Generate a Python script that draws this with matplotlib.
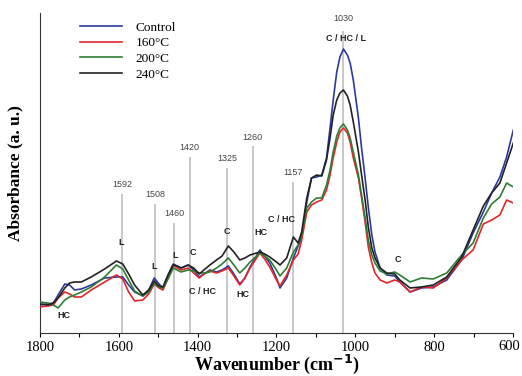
import matplotlib
matplotlib.use("Agg")
import matplotlib.pyplot as plt

wavenumber = [1800, 1780, 1766, 1754, 1737, 1725, 1712, 1695, 1670, 1636,
              1606, 1590, 1575, 1560, 1539, 1524, 1510, 1498, 1488, 1475,
              1462, 1452, 1442, 1424, 1410, 1396, 1384, 1369, 1352, 1338,
              1322, 1308, 1293, 1280, 1267, 1242, 1230, 1217, 1200, 1191,
              1174, 1157, 1145, 1136, 1123, 1111, 1098, 1085, 1073, 1064,
              1056, 1047, 1039, 1030, 1020, 1013, 1005, 992, 984, 975,
              967, 958, 950, 937, 920, 900, 887, 861, 832, 802,
              768, 730, 701, 675, 654, 633, 616, 599]

control = [0.28, 0.29, 0.30, 0.38, 0.49, 0.48, 0.43, 0.44, 0.48, 0.55,
           0.56, 0.56, 0.48, 0.41, 0.37, 0.43, 0.55, 0.49, 0.45, 0.58,
           0.69, 0.67, 0.65, 0.68, 0.63, 0.56, 0.59, 0.63, 0.61, 0.63,
           0.67, 0.59, 0.49, 0.55, 0.66, 0.83, 0.77, 0.70, 0.55, 0.45,
           0.55, 0.75, 0.87, 0.95, 1.31, 1.55, 1.56, 1.58, 1.75, 2.05,
           2.33, 2.61, 2.76, 2.84, 2.78, 2.70, 2.53, 2.15, 1.85, 1.55,
           1.26, 0.98, 0.81, 0.65, 0.58, 0.57, 0.51, 0.41, 0.45, 0.46,
           0.53, 0.73, 1.00, 1.21, 1.40, 1.56, 1.76, 2.03]

t160 = [0.26, 0.27, 0.28, 0.35, 0.41, 0.39, 0.36, 0.36, 0.43, 0.51,
        0.58, 0.54, 0.41, 0.32, 0.33, 0.39, 0.49, 0.45, 0.43, 0.55,
        0.68, 0.65, 0.63, 0.65, 0.60, 0.55, 0.59, 0.62, 0.60, 0.62,
        0.65, 0.57, 0.48, 0.55, 0.65, 0.80, 0.74, 0.66, 0.53, 0.47,
        0.58, 0.73, 0.79, 0.93, 1.21, 1.28, 1.31, 1.33, 1.43, 1.58,
        1.75, 1.91, 2.01, 2.05, 2.00, 1.91, 1.75, 1.55, 1.35, 1.11,
        0.86, 0.70, 0.60, 0.53, 0.50, 0.53, 0.51, 0.41, 0.46, 0.45,
        0.55, 0.73, 0.83, 1.09, 1.13, 1.18, 1.33, 1.30]

t200 = [0.31, 0.30, 0.28, 0.25, 0.33, 0.36, 0.38, 0.41, 0.46, 0.56,
        0.68, 0.64, 0.53, 0.42, 0.37, 0.41, 0.50, 0.46, 0.45, 0.54,
        0.65, 0.63, 0.61, 0.63, 0.62, 0.60, 0.60, 0.61, 0.65, 0.69,
        0.75, 0.68, 0.60, 0.65, 0.71, 0.80, 0.77, 0.73, 0.63, 0.57,
        0.65, 0.81, 0.88, 0.98, 1.25, 1.31, 1.35, 1.35, 1.48, 1.63,
        1.81, 1.97, 2.05, 2.09, 2.03, 1.95, 1.81, 1.58, 1.38, 1.15,
        0.93, 0.78, 0.70, 0.62, 0.59, 0.61, 0.58, 0.51, 0.55, 0.54,
        0.60, 0.78, 0.90, 1.15, 1.29, 1.36, 1.50, 1.46]

t240 = [0.29, 0.28, 0.30, 0.35, 0.45, 0.50, 0.51, 0.51, 0.56, 0.64,
        0.72, 0.69, 0.59, 0.48, 0.38, 0.43, 0.52, 0.47, 0.46, 0.58,
        0.68, 0.67, 0.65, 0.68, 0.65, 0.59, 0.63, 0.68, 0.73, 0.77,
        0.87, 0.81, 0.73, 0.75, 0.78, 0.81, 0.79, 0.76, 0.71, 0.68,
        0.75, 0.96, 0.90, 1.01, 1.35, 1.55, 1.58, 1.57, 1.73, 1.95,
        2.18, 2.33, 2.40, 2.43, 2.37, 2.28, 2.11, 1.81, 1.58, 1.33,
        1.06, 0.85, 0.75, 0.65, 0.60, 0.59, 0.53, 0.45, 0.46, 0.48,
        0.56, 0.76, 1.03, 1.27, 1.40, 1.50, 1.70, 1.90]

series_labels = ["Control", "160°C", "200°C", "240°C"]
series_colors = ["#2b3a9c", "#e3262b", "#2e7d32", "#222222"]

xtick_values = [1800, 1600, 1400, 1200, 1000, 800, 600]
xtick_labels = ["1800", "1600", "1400", "1200", "1000", "800", "600"]

band_positions = [1592, 1508, 1460, 1420, 1325, 1260, 1157, 1030]
band_label_heights = [1.48, 1.38, 1.19, 1.85, 1.74, 1.96, 1.60, 3.15]
band_line_tops = [1.39, 1.29, 1.10, 1.76, 1.65, 1.87, 1.51, 3.02]

assign_texts = ["L", "L", "L", "C", "C / HC", "C", "HC", "HC", "HC", "C / HC", "C", "C / HC / L"]
assign_x = [1593, 1510, 1458, 1413, 1387, 1325, 1285, 1740, 1240, 1187, 893, 1023]
assign_y = [0.90, 0.66, 0.77, 0.80, 0.41, 1.01, 0.38, 0.17, 1.00, 1.13, 0.73, 2.95]

fig = plt.figure(figsize=(5.22, 3.76), dpi=100)
ax = fig.add_axes([0.0766, 0.1144, 0.906, 0.8510])

for xb, top, lab in zip(band_positions, band_line_tops, band_label_heights):
    ax.plot([xb, xb], [0, top], color="#c8c8c8", lw=1.4, zorder=1, solid_capstyle="butt")
    ax.text(xb, lab, str(xb), ha="center", va="center", fontsize=6.5,
            color="#444444", family="Liberation Sans")

for ys, lab, col in zip([control, t160, t200, t240], series_labels, series_colors):
    ax.plot(wavenumber, ys, color=col, lw=1.2, label=lab, zorder=3,
            solid_joinstyle="round")

for t, x, y in zip(assign_texts, assign_x, assign_y):
    ax.text(x, y, t, ha="center", va="center", fontsize=6.5, fontweight="bold",
            color="#222222", family="Liberation Sans", zorder=4)

ax.set_xlim(1800, 600)
ax.set_ylim(0, 3.2)
ax.set_xticks(xtick_values)
ax.set_xticklabels(xtick_labels[:-1] + [""], family="Liberation Serif", fontsize=10.5)
ax.set_xticks([1700, 1500, 1300, 1100, 900, 700], minor=True)
ax.set_yticks([])
ax.tick_params(axis="x", which="both", direction="out", length=3, width=0.8, pad=3)
# last tick label nudged slightly left so it stays inside the figure
ax.annotate(xtick_labels[-1], xy=(xtick_values[-1], 0), xycoords=("data", "axes fraction"),
            xytext=(-2.5, -5.2), textcoords="offset points", ha="center", va="top",
            family="Liberation Serif", fontsize=10.5)
ax.spines["top"].set_visible(False)
ax.spines["right"].set_visible(False)
ax.spines["left"].set_color("#333333")
ax.spines["bottom"].set_color("#333333")

ax.set_xlabel("Wavenumber (cm$^{\\mathbf{-1}}$)", family="Liberation Serif",
              fontsize=13, fontweight="bold", labelpad=-1)
ax.set_ylabel("Absorbance (a. u.)", family="Liberation Serif",
              fontsize=12.5, fontweight="bold", labelpad=12)

leg = ax.legend(loc="upper left", bbox_to_anchor=(0.06, 1.01), frameon=False,
                prop={"family": "Liberation Serif", "size": 9.5},
                handlelength=3.2, handletextpad=1.0, labelspacing=0.25)

fig.savefig("out.png", dpi=100)
